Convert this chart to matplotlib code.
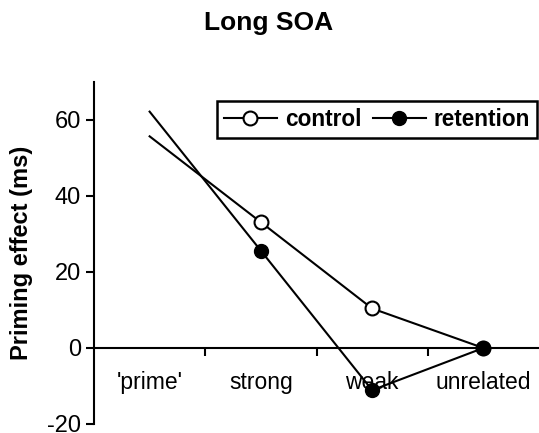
import matplotlib.pyplot as plt

plt.rcParams['font.family'] = ['Liberation Sans', 'DejaVu Sans']
plt.rcParams['axes.unicode_minus'] = False

categories = ["'prime'", "strong", "weak", "unrelated"]
control = [55.7, 33.1, 10.4, 0.0]
retention = [62.2, 25.6, -11.1, 0.0]

fig = plt.figure(figsize=(5.39, 4.33), dpi=100)
ax = fig.add_axes([94 / 539, 1 - 424 / 433, 1 - 94 / 539, (424 - 82) / 433])

x = list(range(len(categories)))
# 'prime' point has no marker
ax.plot(x, control, color='black', lw=1.5, zorder=2)
ax.plot(x[1:], control[1:], 'o', color='black', mfc='white', ms=10, mew=1.5, zorder=3)
ax.plot(x, retention, color='black', lw=1.5, zorder=2)
ax.plot(x[1:], retention[1:], 'o', color='black', ms=10, zorder=4)

# legend proxies
h1, = ax.plot([], [], '-o', color='black', mfc='white', ms=10, mew=1.5, lw=1.5)
h2, = ax.plot([], [], '-o', color='black', ms=10, lw=1.5)
leg = ax.legend([h1, h2], ['control', 'retention'], loc='upper right',
                bbox_to_anchor=(0.9955, 0.944), ncol=2, frameon=True, fancybox=False,
                edgecolor='black', framealpha=1, borderaxespad=0, borderpad=0.3,
                handlelength=2.35, handletextpad=0.35, columnspacing=0.5,
                prop={'weight': 'bold', 'size': 16.3})
leg.get_frame().set_linewidth(1.8)

ax.set_xlim(-0.5, 3.5)
ax.set_ylim(-20, 70)
ax.set_yticks([-20, 0, 20, 40, 60])
ax.set_xticks([0.5, 1.5, 2.5])
ax.set_xticklabels([])
for i, c in enumerate(categories):
    ax.text(i, -9, c, ha='center', va='center', fontsize=16.5)

ax.spines['top'].set_visible(False)
ax.spines['right'].set_visible(False)
ax.spines['bottom'].set_position(('data', 0))
ax.spines['left'].set_linewidth(1.5)
ax.spines['bottom'].set_linewidth(1.5)
ax.tick_params(axis='both', direction='out', length=6, width=1.5, labelsize=17)

fig.text(22 / 539, 1 - 253 / 433, 'Priming effect (ms)', rotation=90,
         ha='center', va='center', fontsize=17, fontweight='bold')
fig.text(269 / 539, 1 - 23 / 433, 'Long SOA', ha='center', va='center',
         fontsize=19, fontweight='bold')

fig.savefig('out.png', dpi=100)
